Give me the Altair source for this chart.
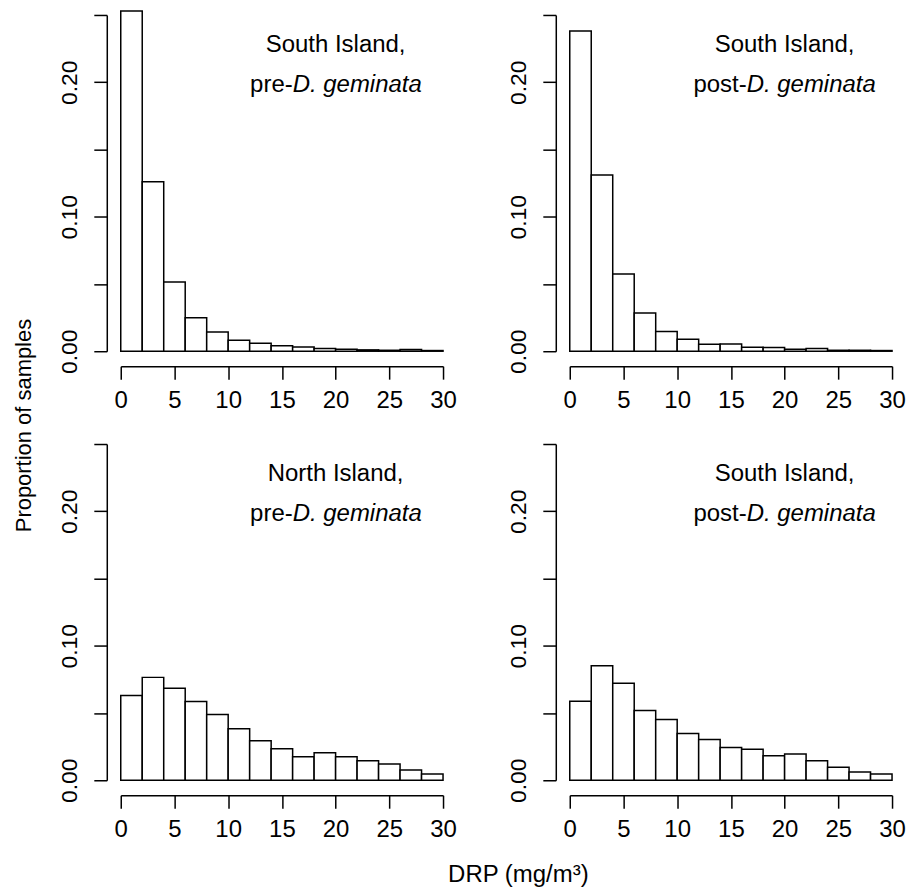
import altair as alt
import pandas as pd

bin_starts = [0, 2, 4, 6, 8, 10, 12, 14, 16, 18, 20, 22, 24, 26, 28]
bin_width = 2

south_pre = [0.253, 0.126, 0.0514, 0.0249, 0.0143, 0.0081, 0.0059, 0.0040,
             0.0032, 0.0020, 0.0015, 0.0010, 0.0007, 0.0012, 0.0005]
south_post_top = [0.238, 0.131, 0.0575, 0.0284, 0.0146, 0.0089, 0.0052, 0.0054,
                  0.0030, 0.0027, 0.0015, 0.0020, 0.0007, 0.0007, 0.0005]
north_pre = [0.063, 0.0765, 0.0684, 0.0585, 0.0489, 0.0383, 0.0294, 0.0235,
             0.0175, 0.0205, 0.0175, 0.0146, 0.0121, 0.0077, 0.0047]
south_post_bottom = [0.0588, 0.0852, 0.0721, 0.0519, 0.0452, 0.0348, 0.0304, 0.0244,
                     0.0230, 0.0183, 0.0195, 0.0146, 0.0096, 0.0062, 0.0047]

x_ticks = [0, 5, 10, 15, 20, 25, 30]
y_ticks = [0, 0.05, 0.10, 0.15, 0.20, 0.25]

FONT = "Liberation Sans"
W, H = 323, 337


def panel(values, line1, prefix, split_dx, ytitle=False, xtitle=False):
    df = pd.DataFrame({
        "start": bin_starts,
        "end": [b + bin_width for b in bin_starts],
        "prop": values,
        "base": [0] * len(bin_starts),
    })
    xaxis_kw = dict(values=x_ticks, offset=15, tickSize=13, tickWidth=1.5,
                    domainWidth=1.5, domainColor="black", tickColor="black",
                    labelColor="black", labelFont=FONT, labelFontSize=24,
                    labelPadding=9, labelFlush=False, labelOverlap=False,
                    grid=False, format="d")
    if xtitle:
        xaxis_kw.update(title="DRP (mg/m³)", titleFont=FONT, titleFontSize=24,
                        titleFontWeight="normal", titleColor="black",
                        titleX=398, titleY=86, titleAlign="center",
                        titleBaseline="alphabetic")
    else:
        xaxis_kw.update(title=None)
    yaxis_kw = dict(values=y_ticks, offset=14, tickSize=13, tickWidth=1.5,
                    domainWidth=1.5, domainColor="black", tickColor="black",
                    labelColor="black", labelFont=FONT, labelFontSize=23,
                    labelPadding=12, labelAngle=270, labelAlign="center",
                    labelBaseline="bottom", labelOverlap=False, labelFlush=False,
                    grid=False,
                    labelExpr="round(datum.value*100) % 10 == 0 ? format(datum.value, '.2f') : ''")
    if ytitle:
        yaxis_kw.update(title="Proportion of samples", titleFont=FONT,
                        titleFontSize=22, titleFontWeight="normal",
                        titleColor="black", titleAngle=270, titleX=-83,
                        titleY=411, titleAlign="center", titleBaseline="middle")
    else:
        yaxis_kw.update(title=None)

    base = alt.Chart(df)
    bars = base.mark_rect(fill="white", stroke="black", strokeWidth=1.5).encode(
        x=alt.X("start:Q", scale=alt.Scale(domain=[0, 30], nice=False, zero=False),
                axis=alt.Axis(**xaxis_kw)),
        x2="end:Q",
        y=alt.Y("prop:Q", scale=alt.Scale(domain=[0, 0.25], nice=False),
                axis=alt.Axis(**yaxis_kw)),
        y2="base:Q",
    )
    tdf = pd.DataFrame({"l1": [line1], "pre": [prefix], "it": ["D. geminata"]})
    tbase = alt.Chart(tdf)
    t1 = tbase.mark_text(font=FONT, fontSize=24, align="center",
                         baseline="alphabetic", color="black").encode(
        x=alt.datum(20), y=alt.datum(0.2224), text="l1:N")
    t2 = tbase.mark_text(font=FONT, fontSize=24, align="right",
                         baseline="alphabetic", color="black", dx=split_dx).encode(
        x=alt.datum(20), y=alt.datum(0.1928), text="pre:N")
    t3 = tbase.mark_text(font=FONT, fontSize=24, align="left", fontStyle="italic",
                         baseline="alphabetic", color="black", dx=split_dx).encode(
        x=alt.datum(20), y=alt.datum(0.1928), text="it:N")
    return alt.layer(bars, t1, t2, t3).properties(width=W, height=H)


p1 = panel(south_pre, "South Island,", "pre-", -43, ytitle=True)
p2 = panel(south_post_top, "South Island,", "post-", -38)
p3 = panel(north_pre, "North Island,", "pre-", -43, xtitle=True)
p4 = panel(south_post_bottom, "South Island,", "post-", -38)

chart = alt.concat(p1, p2, p3, p4, columns=2,
                   spacing={"row": 93, "column": 127}, bounds="flush").properties(
    padding={"left": 5, "top": 1, "right": 5, "bottom": 5},
    background="white",
).configure_view(stroke="transparent", strokeWidth=0)

chart.save("out.html", embed_options={"renderer": "svg", "actions": False})
